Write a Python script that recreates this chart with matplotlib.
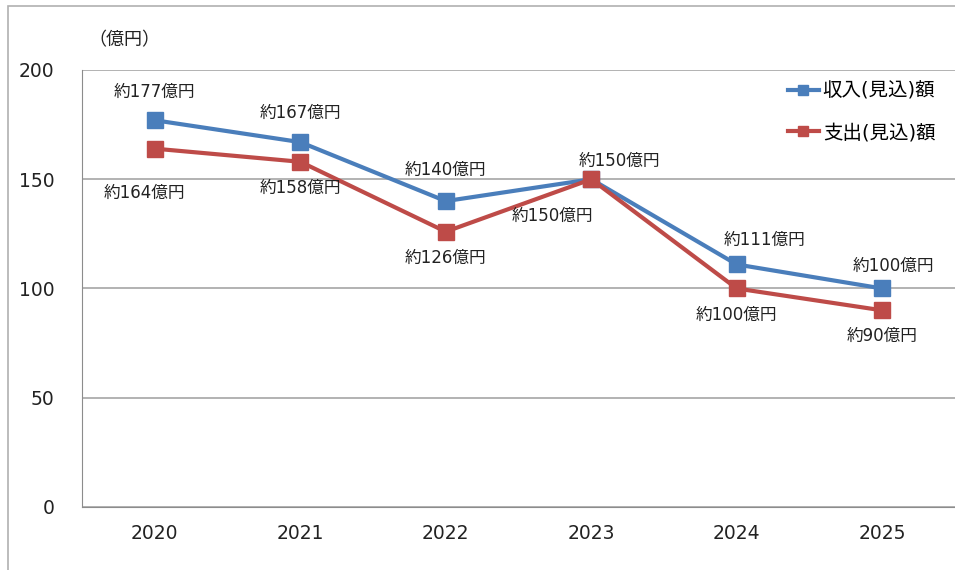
import matplotlib.pyplot as plt
from matplotlib.patches import Rectangle

plt.rcParams['font.family'] = ['DejaVu Sans', 'Noto Sans CJK JP']

years = ['2020', '2021', '2022', '2023', '2024', '2025']
income = [177, 167, 140, 150, 111, 100]
expense = [164, 158, 126, 150, 100, 90]
income_labels = ['約177億円', '約167億円', '約140億円', '約150億円', '約111億円', '約100億円']
expense_labels = ['約164億円', '約158億円', '約126億円', '約150億円', '約100億円', '約90億円']
yticks = [0, 50, 100, 150, 200]

# label offsets in pixels (dx, dy)
income_off = [(0, 28), (0, 29), (0, 31), (28, 18), (28, 25), (11, 23)]
expense_off = [(-10, -44), (0, -26), (0, -26), (-39, -37), (0, -26), (0, -26)]

blue = '#4A7EBB'
red = '#BE4B48'

W, H = 955, 570
fig = plt.figure(figsize=(W / 100, H / 100), dpi=100)
fig.patches.append(Rectangle((8 / W, -0.1), 1.2, 1.1 - 6 / H, transform=fig.transFigure,
                             fill=False, edgecolor='#b0b0b0', linewidth=1.2))

ax = fig.add_axes([82 / W, (H - 507) / H, (W - 82) / W, (507 - 70) / H])
x = list(range(len(years)))

ax.plot(x, income, color=blue, linewidth=3, marker='s', markersize=11, label='収入(見込)額', zorder=3)
ax.plot(x, expense, color=red, linewidth=3, marker='s', markersize=11, label='支出(見込)額', zorder=3)

for i in x:
    ax.annotate(income_labels[i], (i, income[i]), xytext=income_off[i], textcoords='offset pixels',
                ha='center', va='center', fontsize=12, color='#222222')
    ax.annotate(expense_labels[i], (i, expense[i]), xytext=expense_off[i], textcoords='offset pixels',
                ha='center', va='center', fontsize=12, color='#222222')

ax.set_xlim(-0.5, len(years) - 0.5)
ax.set_ylim(0, 200)
ax.set_xticks(x)
ax.set_xticklabels(years, fontsize=13.5, color='#222222')
ax.set_yticks(yticks)
ax.set_yticklabels([str(v) for v in yticks], fontsize=13.5, color='#222222')
ax.tick_params(axis='both', length=0)
ax.tick_params(axis='y', pad=20)
ax.tick_params(axis='x', pad=12)
ax.grid(axis='y', color='#a6a6a6', linewidth=1.2)
ax.set_axisbelow(True)
for s in ['top', 'right']:
    ax.spines[s].set_visible(False)
ax.spines['left'].set_color('#8c8c8c')
ax.spines['bottom'].set_color('#8c8c8c')

fig.text(88 / W, 1 - 40 / H, '（億円）', fontsize=13, va='center', ha='left', color='#222222')

ax.legend(loc='upper left', bbox_to_anchor=(780 / W, 1 - 74 / H), bbox_transform=fig.transFigure,
          frameon=False, fontsize=14, handlelength=1.6, handletextpad=0.2, labelspacing=1.15,
          markerscale=0.7, borderaxespad=0)

fig.savefig('out.png', dpi=100)
